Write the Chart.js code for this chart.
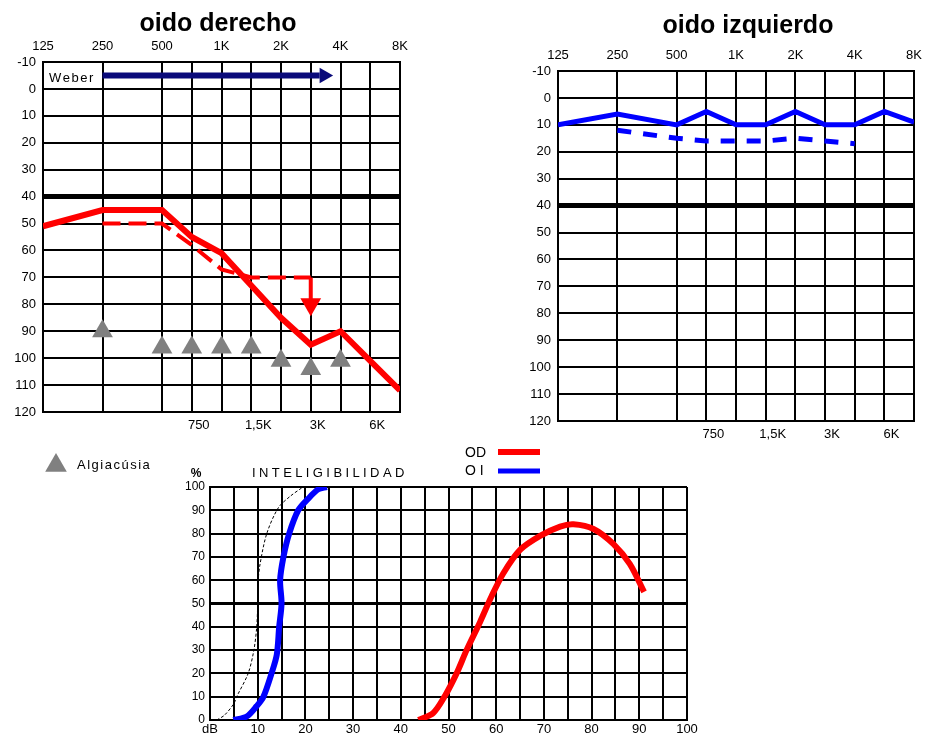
<!DOCTYPE html>
<html>
<head>
<meta charset="utf-8">
<title>Audiograma</title>
<script src="https://cdn.jsdelivr.net/npm/chart.js@4.4.0/dist/chart.umd.min.js"></script>
<style>
  html, body { margin: 0; padding: 0; background: #fff; }
  body { width: 930px; height: 738px; position: relative; overflow: hidden; }
  canvas { position: absolute; }
</style>
</head>
<body>
<canvas id="rightEar" width="420" height="450" style="left:0;top:0"></canvas>
<canvas id="leftEar" width="430" height="450" style="left:500px;top:0"></canvas>
<canvas id="speech" width="720" height="298" style="left:0;top:440px"></canvas>
<script>
// Frequencies, placed on half-octave steps
const freqNames = ['125', '250', '500', '750', '1K', '1,5K', '2K', '3K', '4K', '6K', '8K'];
const freqPos = [0, 2, 4, 5, 6, 7, 8, 9, 10, 11, 12];
const topFreqs = ['125', '250', '500', '1K', '2K', '4K', '8K'];
const bottomFreqs = ['750', '1,5K', '3K', '6K'];

// oido derecho (dB HL per frequency, null = not measured)
const rightAir = [51, 45, 45, 55, 61, 73, 85, 95, 90, 101, 112];
const rightBone = [null, 50, 50, 58, 67, 70, 70, 70, null, null, null];
const rightPain = [null, 90, 96, 96, 96, 96, 101, 104, 101, null, null];
const boneArrowFreq = '3K';
const boneArrow = [70, 78, 80];        // line start, line end, arrow head
const weberX = [2, 9.3, 9.45];         // line start, line end, arrow head
const weberLevel = -5;

// oido izquierdo
const leftAir = [10, 6, 10, 5, 10, 10, 5, 10, 10, 5, 9];
const leftBone = [null, 12, 15, 16, 16, 16, 15, 16, 17, null, null];

// inteligibilidad (dB, %)
const normalDb = [1.4, 3, 5, 5.6, 8, 9.2, 9.8, 10, 10.1, 10.5, 11.9, 14.3, 16.8, 19.5];
const normalPct = [0, 2, 7, 10, 20, 30, 40, 50, 60, 67, 80, 91, 96, 100];
const oiDb = [4.9, 7.7, 9.8, 11.2, 12.9, 14, 14.5, 15, 14.7, 15.4, 16.6, 18.5, 20.6, 22.7, 24.5];
const oiPct = [0, 1.5, 6, 10, 20, 28, 40, 50, 60, 70, 80, 90, 95, 99, 100];
const odDb = [43.7, 46.8, 49.3, 51.7, 53.8, 56.6, 59, 61.5, 65, 69.2, 73.4, 76.2, 80.4, 84.6, 88, 91];
const odPct = [0, 3, 10.5, 20, 30, 42, 53, 63, 73, 79, 83, 84, 82, 75.5, 67, 55];

const RED = '#ff0000';
const BLUE = '#0000ff';
const NAVY = '#0a0a7a';
const GRAY = '#808080';

Chart.defaults.font.family = "'Liberation Sans', Arial, sans-serif";
Chart.defaults.font.size = 13;
Chart.defaults.color = '#000';
Chart.defaults.animation = false;
Chart.defaults.plugins.legend.display = false;
Chart.defaults.plugins.tooltip.enabled = false;

const posOf = name => freqPos[freqNames.indexOf(name)];
const toPoints = vals => vals
  .map((v, i) => (v == null ? null : { x: freqPos[i], y: v }))
  .filter(Boolean);
const zipPoints = (xs, ys) => xs.map((x, i) => ({ x, y: ys[i] }));

// draw text, optionally letter-spaced
function drawText(ctx, t) {
  ctx.save();
  ctx.font = t.font;
  ctx.fillStyle = t.color || '#000';
  ctx.textBaseline = 'alphabetic';
  const spacing = t.spacing || 0;
  const chars = [...t.text];
  const widths = chars.map(ch => ctx.measureText(ch).width);
  const total = widths.reduce((a, b) => a + b, 0) + spacing * (chars.length - 1);
  let x = t.align === 'center' ? t.x - total / 2 : t.x;
  ctx.textAlign = 'left';
  chars.forEach((ch, i) => {
    ctx.fillText(ch, x, t.y);
    x += widths[i] + spacing;
  });
  ctx.restore();
}

function textPlugin(items, extra) {
  return {
    id: 'texts',
    afterDraw(chart) {
      items.forEach(t => drawText(chart.ctx, t));
      if (extra) extra(chart.ctx);
    }
  };
}

const gridStyle = { color: '#000', lineWidth: 2, drawTicks: false };
const borderStyle = { color: '#000', width: 2 };

function freqAxis(position, names, height, labelOffset) {
  return {
    type: 'linear',
    position,
    min: 0,
    max: 12,
    afterBuildTicks: s => { s.ticks = names.map(n => ({ value: posOf(n) })); },
    afterFit: s => { s.height = height; },
    ticks: {
      autoSkip: false,
      maxRotation: 0,
      padding: position === 'top' ? 8 : 6,
      labelOffset: labelOffset || 0,
      callback: v => freqNames[freqPos.indexOf(v)]
    },
    grid: gridStyle,
    border: borderStyle
  };
}

function createAudiogram(canvasId, cfg) {
  const ctx = document.getElementById(canvasId).getContext('2d');
  return new Chart(ctx, {
    type: 'line',
    data: { datasets: cfg.datasets },
    options: {
      responsive: false,
      layout: { padding: { top: 0, left: 0, bottom: 0, right: cfg.padRight } },
      scales: {
        x: freqAxis('top', topFreqs, cfg.topH),
        x2: freqAxis('bottom', bottomFreqs, cfg.bottomH, 7),
        y: {
          reverse: true,
          min: -10,
          max: 120,
          afterFit: s => { s.width = cfg.yW; },
          ticks: { stepSize: 10, padding: 7 },
          grid: {
            color: '#000',
            drawTicks: false,
            lineWidth: c => (c.tick && c.tick.value === 40 ? 5 : 2)
          },
          border: borderStyle
        }
      },
      elements: { point: { radius: 0 } }
    },
    plugins: [textPlugin(cfg.texts)]
  });
}

const titleFont = "bold 25px 'Liberation Sans', Arial, sans-serif";
const smallFont = "13px 'Liberation Sans', Arial, sans-serif";

// ---- oido derecho ----
createAudiogram('rightEar', {
  yW: 43, topH: 62, bottomH: 38, padRight: 20,
  texts: [
    { text: 'oido derecho', x: 218, y: 31, font: titleFont, align: 'center' },
    { text: 'Weber', x: 49, y: 82, font: smallFont, spacing: 1.5 }
  ],
  datasets: [
    {
      data: toPoints(rightAir),
      borderColor: RED, borderWidth: 6, tension: 0
    },
    {
      data: toPoints(rightBone),
      borderColor: RED, borderWidth: 4, borderDash: [18, 8], tension: 0
    },
    {
      data: [
        { x: posOf(boneArrowFreq), y: boneArrow[0] },
        { x: posOf(boneArrowFreq), y: boneArrow[1] }
      ],
      borderColor: RED, borderWidth: 4
    },
    {
      data: [{ x: posOf(boneArrowFreq), y: boneArrow[2] }],
      showLine: false, pointStyle: 'triangle', rotation: 180,
      pointRadius: 12, backgroundColor: RED, borderColor: RED, borderWidth: 0
    },
    {
      data: toPoints(rightPain),
      showLine: false, pointStyle: 'triangle',
      pointRadius: 12, backgroundColor: GRAY, borderColor: GRAY, borderWidth: 0
    },
    {
      data: [{ x: weberX[0], y: weberLevel }, { x: weberX[1], y: weberLevel }],
      borderColor: NAVY, borderWidth: 6
    },
    {
      data: [{ x: weberX[2], y: weberLevel }],
      showLine: false, pointStyle: 'triangle', rotation: 90,
      pointRadius: 9, backgroundColor: NAVY, borderColor: NAVY, borderWidth: 0
    }
  ]
});

// ---- oido izquierdo ----
createAudiogram('leftEar', {
  yW: 58, topH: 71, bottomH: 29, padRight: 14,
  texts: [
    { text: 'oido izquierdo', x: 248, y: 33, font: titleFont, align: 'center' }
  ],
  datasets: [
    {
      data: toPoints(leftAir),
      borderColor: BLUE, borderWidth: 5, tension: 0
    },
    {
      data: toPoints(leftBone),
      borderColor: BLUE, borderWidth: 5, borderDash: [14, 12], tension: 0
    }
  ]
});

// ---- inteligibilidad ----
function drawSpeechLegend(ctx) {
  ctx.save();
  ctx.lineWidth = 6;
  ctx.strokeStyle = RED;
  ctx.beginPath();
  ctx.moveTo(498, 12);
  ctx.lineTo(540, 12);
  ctx.stroke();
  ctx.lineWidth = 5;
  ctx.strokeStyle = BLUE;
  ctx.beginPath();
  ctx.moveTo(498, 31);
  ctx.lineTo(540, 31);
  ctx.stroke();
  // Algiacúsia marker
  const r = 12.5, cx = 56, cy = 25.5;
  ctx.fillStyle = GRAY;
  ctx.beginPath();
  ctx.moveTo(cx, cy - r);
  ctx.lineTo(cx + r * Math.sin(2 * Math.PI / 3), cy + r / 2);
  ctx.lineTo(cx - r * Math.sin(2 * Math.PI / 3), cy + r / 2);
  ctx.closePath();
  ctx.fill();
  ctx.restore();
}

new Chart(document.getElementById('speech').getContext('2d'), {
  type: 'line',
  data: {
    datasets: [
      {
        data: zipPoints(odDb, odPct),
        borderColor: RED, borderWidth: 6, tension: 0.3
      },
      {
        data: zipPoints(oiDb, oiPct),
        borderColor: BLUE, borderWidth: 6, tension: 0.3
      },
      {
        data: zipPoints(normalDb, normalPct),
        borderColor: '#000', borderWidth: 1, borderDash: [3, 2], tension: 0.3
      }
    ]
  },
  options: {
    responsive: false,
    layout: { padding: { top: 47, left: 0, bottom: 0, right: 33 } },
    elements: { point: { radius: 0 } },
    scales: {
      x: {
        type: 'linear',
        min: 0,
        max: 100,
        afterFit: s => { s.height = 18; },
        ticks: {
          stepSize: 5,
          autoSkip: false,
          maxRotation: 0,
          padding: 2,
          callback: v => (v === 0 ? 'dB' : (v % 10 === 0 ? String(v) : ''))
        },
        grid: gridStyle,
        border: borderStyle
      },
      y: {
        min: 0,
        max: 100,
        afterFit: s => { s.width = 210; },
        ticks: { stepSize: 10, padding: 5, font: { size: 12 } },
        grid: {
          color: '#000',
          drawTicks: false,
          lineWidth: c => (c.tick && c.tick.value === 50 ? 3 : 2)
        },
        border: borderStyle
      }
    }
  },
  plugins: [textPlugin([
    { text: 'Algiacúsia', x: 77, y: 29, font: smallFont, spacing: 1.5 },
    { text: '%', x: 196, y: 37, font: "bold 12px 'Liberation Sans', Arial, sans-serif", align: 'center' },
    { text: 'INTELIGIBILIDAD', x: 252, y: 37, font: smallFont, spacing: 3.4 },
    { text: 'OD', x: 465, y: 17, font: "14px 'Liberation Sans', Arial, sans-serif" },
    { text: 'O I', x: 465, y: 35, font: "14px 'Liberation Sans', Arial, sans-serif" }
  ], drawSpeechLegend)]
});
</script>
</body>
</html>
